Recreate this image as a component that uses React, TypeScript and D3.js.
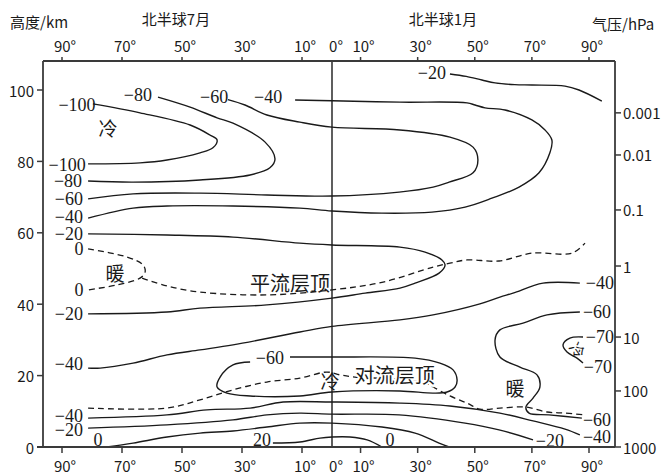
import React from 'react';
import * as d3 from 'd3';

// ---- axis data ----
const latTicks = [-90, -70, -50, -30, -10, 0, 10, 30, 50, 70, 90];
const heightTicks = [0, 20, 40, 60, 80, 100];
const pressureTicks = [1000, 100, 10, 1, 0.1, 0.01, 0.001];
const pressureLabels = ['1000', '100', '10', '1', '0.1', '0.01', '0.001'];
const pressureTickHeights = [0, 15.7, 30.8, 50.7, 66.4, 81.8, 93.6];

// ---- isotherms: [signed latitude (negative = July side), height km] ----
const isoM20Top = [[41.3, 104.5], [47, 103.8], [52.5, 102.8], [57.1, 102], [64, 101.5], [70, 101.4], [81.6, 101.1], [86.5, 100], [94.5, 96.9]];
const isoM40Upper = [[-12.3, 97.2], [0, 97.0], [23.8, 96.6], [47.3, 96.4], [50.1, 95.8], [53.6, 95], [60.6, 94.4], [70, 91.6], [74.6, 88.8], [77, 86], [76.3, 82.4], [72.5, 76.8], [65.5, 72.8], [56, 69.7], [46.6, 67.2], [35, 65.8], [17.5, 65.5], [0, 66.1], [-10.7, 66.9], [-33, 67.5], [-55, 67.5], [-66.3, 66.9], [-81.3, 64.1]];
const isoM60Upper = [[-34.7, 97.3], [-29, 95.8], [-21.7, 93], [-10.7, 91], [0, 89.6], [23.8, 88.8], [41.3, 86.8], [49.4, 84], [51.1, 80.4], [49.4, 76.8], [41, 74.2], [35.4, 72.8], [23.5, 71.4], [0, 70.3], [-21.7, 70.6], [-44, 71.1], [-66.3, 70.9], [-81.3, 69.5]];
const isoM80 = [[-58, 98], [-47.3, 95.2], [-38.3, 92.2], [-33, 90.7], [-22.3, 85.4], [-19, 80.7], [-20.7, 78.2], [-27.3, 76.2], [-44, 74.8], [-66.3, 74.2], [-81.3, 74.5]];
const isoM100 = [[-79.7, 96.1], [-64, 93.6], [-47.3, 90.2], [-40.7, 87.4], [-38.3, 86], [-39.7, 83.8], [-44, 82.4], [-55, 80.4], [-64, 79.6], [-81.3, 79.3]];
const isoM20Mid = [[-81.3, 59.7], [-55, 59.4], [-33, 58.8], [-10.7, 57.1], [0, 56.6], [23.8, 56], [32.6, 54.6], [38.5, 52.4], [39.6, 51], [37.5, 48.7], [29.1, 45.9], [23.8, 44.5], [11.6, 43.1], [0, 41.7], [-21.7, 39.8], [-44, 38.9], [-55, 37.8], [-81.3, 37.3]];
const iso0Loop = [[-81.3, 55.5], [-68.3, 53.2], [-63, 51], [-62.3, 49], [-64, 47.3], [-71.7, 45.4], [-81.3, 44]];
const stratopause = [[-63.3, 47.3], [-55, 45.1], [-44, 43.4], [-21.7, 42.6], [0, 44], [17.9, 46.2], [35.4, 50.4], [41.3, 51.5], [47.3, 52.4], [58.5, 52.1], [70, 54.3], [84, 54.3], [88.6, 57.1]];
const isoM40Mid = [[-81.3, 22.1], [-77.3, 22.1], [-66.3, 23.5], [-55, 25.8], [-44, 27.2], [-33, 28.6], [-10.7, 32.2], [0, 33.8], [23.8, 35.6], [35.4, 37], [51.8, 40.1], [58.8, 42], [63.4, 43.1], [73.9, 45.9], [86.8, 45.9]];
const isoM60Trop = [[-27.3, 23.8], [-33, 23], [-37.3, 19.6], [-38.3, 16.8], [-35, 15.1], [-27.3, 14.3], [-10.7, 14.3], [0, 15.4], [23.8, 15.7], [35.4, 15.1], [40.3, 15.4], [43.1, 16.8], [43.8, 18.8], [42.4, 21.6], [37.8, 23.5], [29.1, 24.9], [0, 25.2], [-14, 25.2]];
const tropopause = [[-81.3, 10.9], [-55, 10.9], [-44, 13.2], [-33, 16], [-21.7, 18.2], [-10.7, 19.3], [-1.7, 21], [2.8, 20.2], [8, 19.6], [22, 19], [32.6, 17.9], [35.4, 16.8], [41.3, 14.3], [47.3, 12.3], [51.8, 10.6], [58.8, 10.9], [67.6, 11.2], [75.3, 9.8], [81.6, 9.5], [88.6, 9]];
const isoM60Right = [[86.8, 37.8], [75.3, 37], [66.9, 34.7], [58.8, 32.8], [57.1, 30], [58.8, 25.2], [65.8, 22.4], [71.8, 20.2], [72.8, 16.8], [70.4, 13.7], [67.9, 11.2], [69, 9.5], [76, 9], [87.5, 8.1]];
const isoM70 = [[87.9, 30.8], [83.3, 30.5], [80.9, 28.6], [82.3, 26.6], [85.8, 24.9], [87.9, 23.5]];
const isoM40Low = [[-81.3, 8.1], [-55, 9], [-41.7, 10.4], [-27.3, 10.9], [-16.3, 12.6], [0, 12.6], [23.8, 12.3], [41.3, 11.5], [58.8, 9.5], [70.4, 7.3], [81.6, 5], [86.8, 3.4]];
const isoM20Low = [[-81.3, 5.3], [-55, 6.2], [-33, 7.6], [-21.7, 9], [-10.7, 9.5], [0, 9.2], [23.5, 9], [46.6, 6.7], [58.5, 4.8], [70.4, 2]];
const iso0Low = [[-75, 0], [-66.3, 1.1], [-55, 2.8], [-44, 3.9], [-33, 4.5], [-21.7, 5.6], [-10.7, 6.7], [0, 6.7], [17.5, 5.6], [29.1, 3.9], [37.5, 1.1], [41, 0]];
const iso20Low = [[-19.7, 1.1], [-10.7, 1.4], [-4, 2.5], [0, 2.8], [6.3, 2.8], [12.3, 2], [17.5, 0]];

const solidLines = [isoM20Top, isoM40Upper, isoM60Upper, isoM80, isoM100, isoM20Mid, isoM40Mid, isoM60Trop, isoM60Right, isoM70, isoM40Low, isoM20Low, iso0Low, iso20Low];
const dashedLines = [iso0Loop, stratopause, tropopause];

// ---- isotherm labels: [lat, height, text] ----
const isoLabels: [number, number, string][] = [
  [-85, 95.8, '−100'], [-64.7, 98.6, '−80'], [-39.3, 98.0, '−60'], [-21.3, 98.0, '−40'], [35, 104.8, '−20'],
  [-88.3, 79.0, '−100'], [-88, 74.5, '−80'], [-87.7, 69.5, '−60'], [-87.7, 64.4, '−40'], [-87.7, 59.7, '−20'],
  [-84.3, 55.5, '0'], [-84.3, 44.0, '0'], [-87.7, 37.3, '−20'], [-87.7, 23.2, '−40'],
  [-87.7, 8.7, '−40'], [-87.7, 4.8, '−20'], [-78, 2, '0'], [-23.3, 2, '20'], [20.3, 2, '0'],
  [-20.7, 24.9, '−60'], [92.8, 37.8, '−60'], [93.8, 45.9, '−40'], [93.8, 30.8, '−70'], [93.1, 22.4, '−70'],
  [92.8, 7.6, '−60'], [92.8, 2.8, '−40'], [76.3, 1.7, '−20'],
];

// ---- region notes: [lat, height, text] ----
const notes: [number, number, string][] = [
  [-74.7, 89.4, '冷'], [-72.3, 49, '暖'], [-14, 46.2, '平流层顶'], [-0.7, 18.5, '冷'],
  [22, 20.2, '对流层顶'], [64.1, 16.8, '暖'],
];
const smallNote: [number, number, string] = [86.1, 27.2, '冷'];

const SANS = '"Noto Sans CJK SC", "Noto Sans", sans-serif';
const SERIF = '"Liberation Serif", "DejaVu Serif", serif';

export default function App() {
  const W = 664, H = 475;
  const frame = { left: 43, right: 615, top: 61, bottom: 447 };
  const x = d3.scaleLinear().domain([-90, 0, 90]).range([62, 332, 589]);
  const y = d3.scaleLinear().domain([0, 100]).range([447, 90]);
  const p = d3.scaleLog().domain(pressureTicks).range(pressureTickHeights.map((h) => y(h)));
  const line = d3
    .line<number[]>()
    .x((d) => x(d[0]))
    .y((d) => y(d[1]))
    .curve(d3.curveCatmullRom.alpha(0.5));

  const axisColor = '#3a3a3a';
  const ink = '#1a1a1a';

  return (
    <svg width={W} height={H} style={{ position: 'absolute', left: 0, top: 0, background: '#fff' }}>
      <rect x={0} y={0} width={W} height={H} fill="#fff" />
      {/* titles */}
      <text x={10} y={28} fontFamily={SANS} fontSize={15} fill={ink}>高度/km</text>
      <text x={176} y={25} fontFamily={SANS} fontSize={15} fill={ink} textAnchor="middle">北半球7月</text>
      <text x={443} y={25} fontFamily={SANS} fontSize={15} fill={ink} textAnchor="middle">北半球1月</text>
      <text x={592} y={30} fontFamily={SANS} fontSize={15} fill={ink}>气压/hPa</text>

      {/* contour lines */}
      <g fill="none" stroke={ink} strokeWidth={1.4}>
        {solidLines.map((d, i) => (
          <path key={'s' + i} d={line(d) || ''} />
        ))}
      </g>
      <g fill="none" stroke={ink} strokeWidth={1.3} strokeDasharray="6,4">
        {dashedLines.map((d, i) => (
          <path key={'d' + i} d={line(d) || ''} />
        ))}
      </g>

      {/* center line */}
      <line x1={x(0)} x2={x(0)} y1={frame.top} y2={frame.bottom} stroke={ink} strokeWidth={1.4} />

      {/* notes */}
      {notes.map(([la, h, t], i) => (
        <text
          key={'n' + i}
          x={x(la)}
          y={y(h)}
          fontFamily={SANS}
          fontSize={t.length > 1 ? 20 : 19}
          fill={ink}
          textAnchor="middle"
          dominantBaseline="central"
          stroke={t === '对流层顶' ? '#fff' : 'none'}
          strokeWidth={4}
          style={{ paintOrder: 'stroke' }}
        >
          {t}
        </text>
      ))}
      <text
        x={x(smallNote[0])}
        y={y(smallNote[1])}
        fontFamily={SANS}
        fontSize={15}
        fill={ink}
        textAnchor="middle"
        dominantBaseline="central"
        transform={`rotate(55 ${x(smallNote[0])} ${y(smallNote[1])})`}
      >
        {smallNote[2]}
      </text>

      {/* isotherm labels */}
      {isoLabels.map(([la, h, t], i) => (
        <text
          key={'l' + i}
          x={x(la)}
          y={y(h)}
          fontFamily={SERIF}
          fontSize={18}
          fill={ink}
          textAnchor="middle"
          dominantBaseline="central"
        >
          {t}
        </text>
      ))}

      {/* frame */}
      <g stroke={axisColor} strokeWidth={1.8} fill="none">
        <line x1={frame.left} x2={frame.left} y1={frame.top} y2={frame.bottom} />
        <line x1={frame.left} x2={frame.right} y1={frame.top} y2={frame.top} />
        <line x1={frame.right} x2={frame.right} y1={frame.top} y2={frame.bottom} />
        <line x1={frame.left - 6} x2={frame.right} y1={frame.bottom} y2={frame.bottom} />
      </g>

      {/* latitude ticks top and bottom */}
      {latTicks.map((t) => (
        <g key={'lt' + t}>
          {t !== 0 && (
            <>
              <line x1={x(t)} x2={x(t)} y1={frame.top - 4} y2={frame.top} stroke={axisColor} strokeWidth={1.5} />
              <line x1={x(t)} x2={x(t)} y1={frame.bottom} y2={frame.bottom + 6} stroke={axisColor} strokeWidth={1.5} />
            </>
          )}
          <text x={x(t) + (t === 0 ? 4 : 3)} y={45} fontFamily={SANS} fontSize={15} fill={ink} textAnchor="middle" dominantBaseline="central">
            {Math.abs(t)}°
          </text>
          <text x={x(t) + (t === 0 ? 4 : 3)} y={465} fontFamily={SANS} fontSize={15} fill={ink} textAnchor="middle" dominantBaseline="central">
            {Math.abs(t)}°
          </text>
        </g>
      ))}

      {/* height ticks */}
      {heightTicks.map((h) => (
        <g key={'h' + h}>
          <line x1={frame.left - 6} x2={frame.left} y1={y(h)} y2={y(h)} stroke={axisColor} strokeWidth={1.5} />
          <text x={34} y={y(h)} fontFamily={SANS} fontSize={15} fill={ink} textAnchor="end" dominantBaseline="central">
            {h}
          </text>
        </g>
      ))}

      {/* pressure ticks */}
      {pressureTicks.map((v, i) => (
        <g key={'p' + i}>
          <line x1={frame.right} x2={frame.right + 6} y1={p(v)} y2={p(v)} stroke={axisColor} strokeWidth={1.5} />
          <text x={623} y={p(v)} fontFamily={SANS} fontSize={15} fill={ink} dominantBaseline="central">
            {pressureLabels[i]}
          </text>
        </g>
      ))}
    </svg>
  );
}
